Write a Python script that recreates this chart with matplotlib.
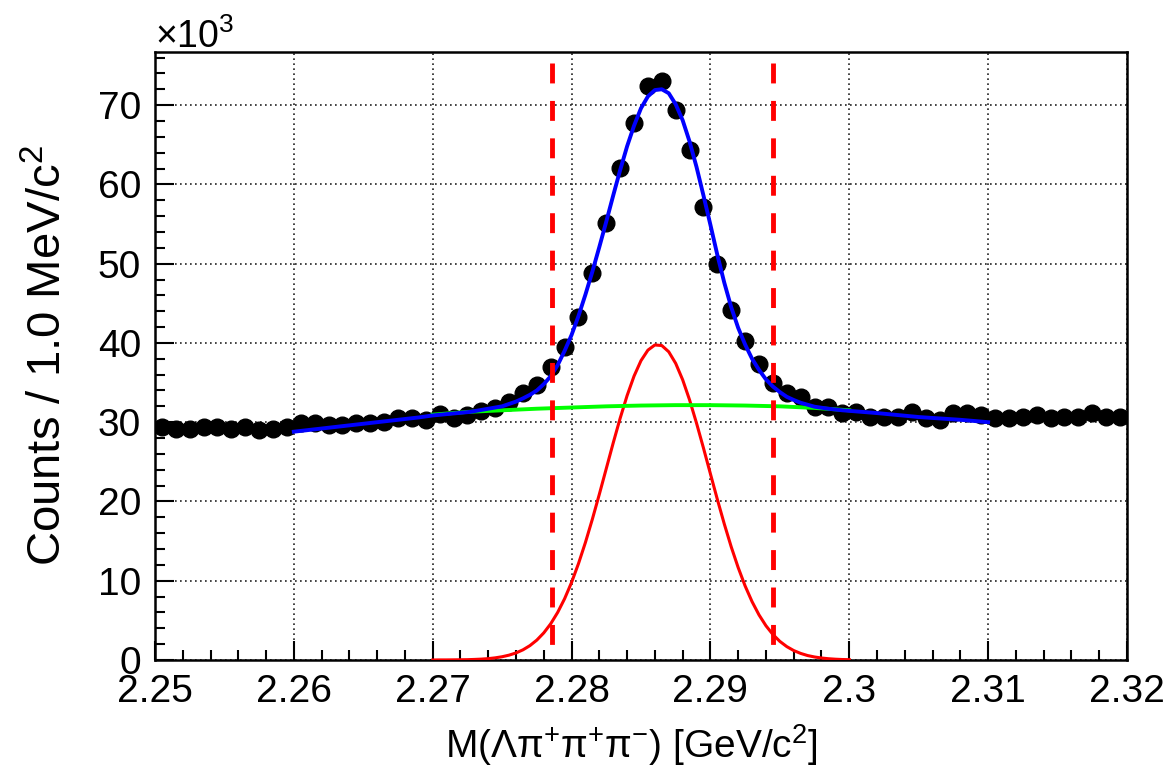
import matplotlib
matplotlib.use('Agg')

import matplotlib.pyplot as plt
from matplotlib.ticker import MultipleLocator, FuncFormatter
import numpy as np

plt.rcParams['font.family'] = ['Liberation Sans', 'DejaVu Sans']
plt.rcParams['mathtext.fontset'] = 'custom'
plt.rcParams['mathtext.rm'] = 'Liberation Sans'
plt.rcParams['mathtext.it'] = 'Liberation Sans:italic'

# 1 MeV bins from 2.25 to 2.32 GeV, counts in units of 10^3
bin_centers = np.arange(2.2505, 2.32, 0.001)
counts = [29.4, 29.2, 29.2, 29.4, 29.4, 29.2, 29.4, 29.0, 29.2, 29.4,
          29.85, 29.85, 29.6, 29.6, 29.85, 29.85, 30.05, 30.5, 30.5, 30.3,
          31.0, 30.5, 30.9, 31.4, 31.8, 32.5, 33.7, 34.7, 36.9, 39.5,
          43.3, 48.8, 55.1, 62.1, 67.8, 72.4, 73.0, 69.4, 64.3, 57.1,
          50.0, 44.1, 40.2, 37.3, 34.9, 33.7, 33.2, 31.9, 31.9, 31.1,
          31.3, 30.6, 30.7, 30.7, 31.3, 30.5, 30.3, 31.1, 31.1, 30.9,
          30.5, 30.5, 30.7, 30.9, 30.5, 30.7, 30.7, 31.1, 30.7, 30.7]

# total fit (blue)
fit_x = [2.2600, 2.2630, 2.2660, 2.2690, 2.2700, 2.2727, 2.2750, 2.2760, 2.2765, 2.2770,
         2.2775, 2.2780, 2.2785, 2.2790, 2.2795, 2.2800, 2.2805, 2.2810, 2.2815, 2.2820,
         2.2825, 2.2830, 2.2835, 2.2840, 2.2845, 2.2850, 2.2855, 2.2860, 2.2865, 2.2870,
         2.2875, 2.2880, 2.2885, 2.2890, 2.2895, 2.2900, 2.2905, 2.2910, 2.2915, 2.2920,
         2.2925, 2.2930, 2.2935, 2.2940, 2.2945, 2.2950, 2.2955, 2.2960, 2.2965, 2.2975,
         2.2985, 2.2995, 2.3020, 2.3050, 2.3080, 2.3100]
fit_y = [28.8, 29.4, 30.0, 30.6, 30.85, 31.3, 32.0, 32.6, 33.0, 33.45,
         34.0, 34.8, 35.8, 37.2, 39.0, 41.0, 43.4, 46.1, 49.0, 52.1,
         55.3, 58.6, 61.8, 64.8, 67.4, 69.6, 71.1, 71.9, 72.0, 71.5,
         70.1, 68.1, 65.4, 62.2, 58.6, 54.9, 51.1, 47.6, 44.5, 41.9,
         39.8, 38.0, 36.6, 35.4, 34.5, 33.8, 33.2, 32.8, 32.45, 31.95,
         31.7, 31.5, 31.15, 30.65, 30.3, 30.0]

# background (green)
bkg_x = [2.270, 2.2725, 2.275, 2.2775, 2.280, 2.2825, 2.285, 2.2875, 2.290,
         2.2925, 2.295, 2.2975, 2.300]
bkg_y = [30.95, 31.3, 31.5, 31.7, 31.85, 32.0, 32.1, 32.15, 32.15,
         32.1, 32.0, 31.8, 31.5]

# signal shape (red)
sig_x = np.arange(2.2700, 2.30001, 0.0005)
sig_y = [0.0, 0.01, 0.01, 0.02, 0.03, 0.04, 0.07, 0.11, 0.17, 0.27,
         0.41, 0.61, 0.89, 1.28, 1.81, 2.51, 3.42, 4.57, 6.0, 7.73,
         9.78, 12.16, 14.83, 17.77, 20.9, 24.14, 27.38, 30.49, 33.35, 35.81,
         37.76, 39.09, 39.74, 39.67, 38.88, 37.42, 35.36, 32.81, 29.88, 26.74,
         23.49, 20.26, 17.16, 14.27, 11.66, 9.34, 7.36, 5.69, 4.32, 3.22,
         2.35, 1.69, 1.19, 0.83, 0.56, 0.38, 0.25, 0.16, 0.10, 0.06, 0.04]

# signal window
window = [2.2786, 2.2945]

fig = plt.figure(figsize=(11.67, 7.66), dpi=100)
ax = fig.add_axes([0.1328, 0.1384, 0.8329, 0.7937])

ax.plot(bin_centers, counts, 'o', color='black', markersize=12, zorder=3)
ax.plot(sig_x, sig_y, color='#ff0000', lw=2.2, zorder=4)
ax.plot(bkg_x, bkg_y, color='#00ff00', lw=2.8, zorder=4)
ax.plot(fit_x, fit_y, color='#0000ff', lw=2.8, zorder=5)
for w in window:
    # drawn top-down so the dash pattern starts at the top
    ax.plot([w, w], [75.3, 0], color='#ff0000', lw=3.5, dashes=(4.1, 3.6), zorder=6)

ax.set_xlim(2.25, 2.32)
ax.set_ylim(0, 76.7)

ax.xaxis.set_major_locator(MultipleLocator(0.01))
ax.xaxis.set_minor_locator(MultipleLocator(0.002))
ax.yaxis.set_major_locator(MultipleLocator(10))
ax.yaxis.set_minor_locator(MultipleLocator(2))
ax.xaxis.set_major_formatter(FuncFormatter(lambda v, p: '%g' % round(v, 3)))

ax.tick_params(which='both', direction='in', width=1.5, labelsize=28, top=False, right=False)
ax.tick_params(which='major', length=14)
ax.tick_params(which='minor', length=7)
ax.tick_params(axis='x', pad=10)
ax.tick_params(axis='y', pad=10)

ax.grid(True, which='major', color='#222222', lw=1.2, dashes=(1, 2.0))
ax.set_axisbelow(True)
for s in ax.spines.values():
    s.set_linewidth(1.8)

ax.set_xlabel('M(Λπ$^{+}$π$^{+}$π$^{-}$) [GeV/c$^{2}$]', fontsize=28)
ax.xaxis.set_label_coords(0.49, -0.102)
ax.set_ylabel('Counts / 1.0 MeV/c$^{2}$', fontsize=34, labelpad=19)
ax.text(0.0, 1.007, '×10$^{3}$', transform=ax.transAxes, fontsize=27,
        ha='left', va='baseline')

plt.savefig('out.png', dpi=100)
